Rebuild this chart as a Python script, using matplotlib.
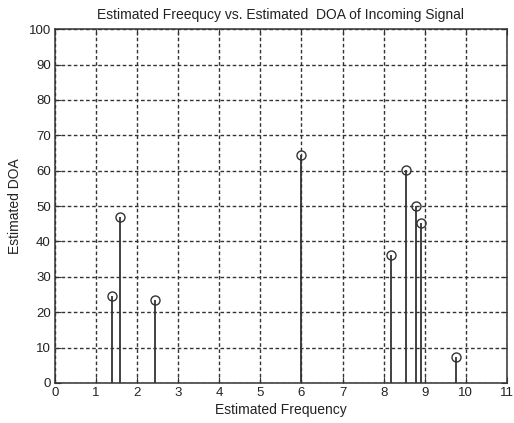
import matplotlib
matplotlib.use("Agg")
import matplotlib.pyplot as plt

freq = [1.39, 1.575, 2.43, 6.0, 8.17, 8.54, 8.80, 8.92, 9.76]
doa = [24.5, 47.0, 23.5, 64.3, 36.2, 60.2, 50.1, 45.1, 7.4]
xticks = list(range(0, 12))
yticks = list(range(0, 101, 10))

plt.rcParams['font.family'] = ['Liberation Sans', 'DejaVu Sans']

fig = plt.figure(figsize=(5.14, 4.23), dpi=100)
ax = fig.add_axes([0.107, 0.0946, 0.879, 0.8364])

ml, sl, bl = ax.stem(freq, doa, linefmt='k-', markerfmt='ko', basefmt=' ')
ml.set_markerfacecolor('none')
ml.set_markeredgecolor('#333333')
ml.set_markersize(6.5)
ml.set_markeredgewidth(1.0)
sl.set_color('#333333')
sl.set_linewidth(1.3)

ax.set_xlim(0, 11)
ax.set_ylim(0, 100)
ax.set_xticks(xticks)
ax.set_yticks(yticks)
ax.grid(True, color='#333333', linestyle=(0, (2.6, 1.8)), linewidth=1.0)
ax.tick_params(direction='in', top=True, right=True, labelsize=9.5, length=4, pad=3,
               colors='#333333', labelcolor='#222222')
for s in ax.spines.values():
    s.set_color('#333333')
    s.set_linewidth(1.1)

ax.set_title('Estimated Freequcy vs. Estimated  DOA of Incoming Signal', fontsize=10, pad=7,
             color='#222222')
ax.set_xlabel('Estimated Frequency', fontsize=10, labelpad=3, color='#222222')
ax.set_ylabel('Estimated DOA', fontsize=10, labelpad=5, color='#222222')

fig.savefig('out.png', dpi=100)
